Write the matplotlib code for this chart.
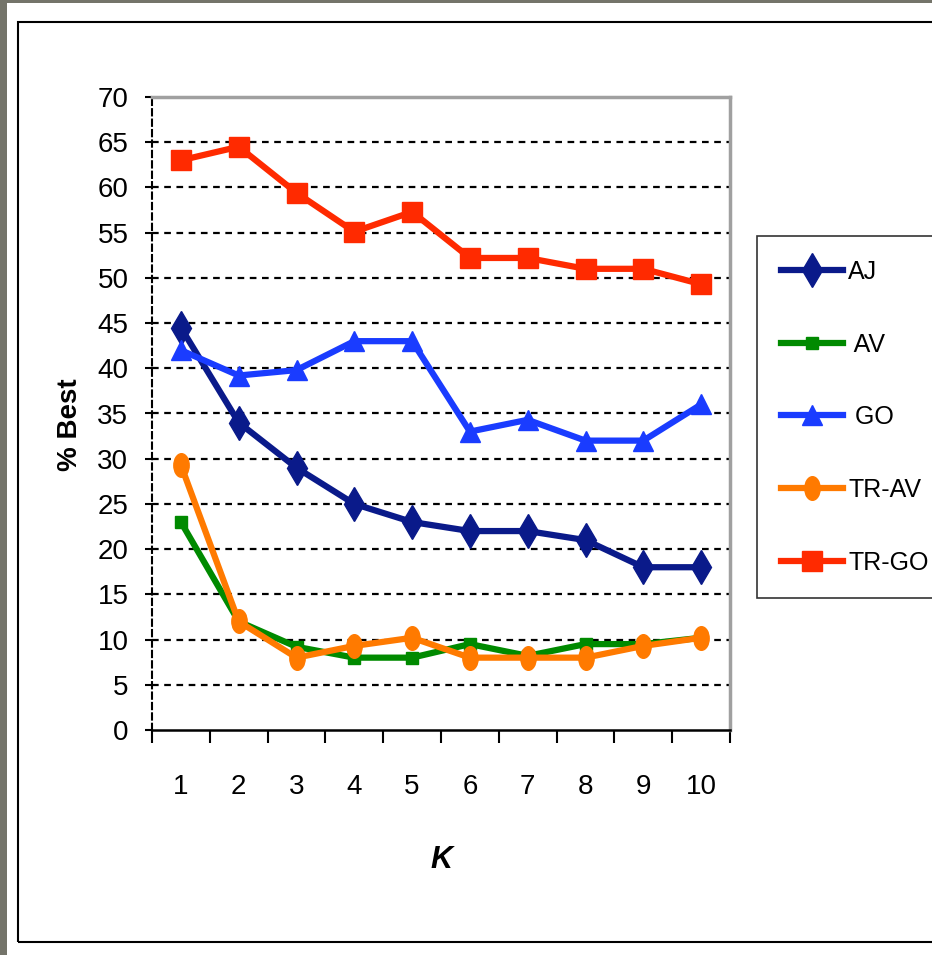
import numpy as np
import matplotlib
matplotlib.use('Agg')
import matplotlib.pyplot as plt
from matplotlib.patches import Rectangle
from matplotlib.path import Path
from matplotlib.transforms import Affine2D

# data
k_values = ['1', '2', '3', '4', '5', '6', '7', '8', '9', '10']
aj = [44.5, 34, 29, 25, 23, 22, 22, 21, 18, 18]
av = [23, 12, 9.2, 8, 8, 9.5, 8.2, 9.5, 9.5, 10.2]
go = [42, 39.2, 39.8, 43, 43, 33, 34.3, 32, 32, 36]
tr_av = [29.3, 12, 8, 9.3, 10.2, 8, 8, 8, 9.3, 10.2]
tr_go = [63, 64.5, 59.4, 55.1, 57.3, 52.2, 52.2, 51, 51, 49.3]
y_ticks = [0, 5, 10, 15, 20, 25, 30, 35, 40, 45, 50, 55, 60, 65, 70]

plt.rcParams['font.family'] = ['Liberation Sans Narrow', 'Liberation Sans', 'DejaVu Sans']

fig = plt.figure(figsize=(9.32, 9.55), dpi=100)
fig.patch.set_facecolor('#74746a')

# white panel with black frame, kept behind the axes
fig.patches.append(Rectangle((7/932, 0), 1, 1 - 3/955, transform=fig.transFigure,
                             facecolor='white', edgecolor='none', zorder=-2))
fig.patches.append(Rectangle((18/932, 1 - 942/955), 1, (942 - 22)/955, transform=fig.transFigure,
                             facecolor='none', edgecolor='black', linewidth=1.5, zorder=-1))

ax = fig.add_axes([152/932, 1 - 730/955, 578/932, 633/955])
x = np.arange(len(k_values))

# vertically stretched ellipse marker
ellipse = Path.unit_circle().transformed(Affine2D().scale(0.65, 1.0))

ax.plot(x, aj, color='#0a1a8a', lw=4.5, marker='d', ms=17, label='AJ', zorder=5)
ax.plot(x, av, color='#008a00', lw=4.5, marker='s', ms=8, label=' AV', zorder=4)
ax.plot(x, go, color='#1a3cff', lw=4.5, marker='^', ms=15, label=' GO', zorder=5)
ax.plot(x, tr_av, color='#ff7a00', lw=4.5, marker=ellipse, ms=17, label='TR-AV', zorder=5)
ax.plot(x, tr_go, color='#ff2a00', lw=4.5, marker='s', ms=14, label='TR-GO', zorder=5)

ax.set_xlim(-0.5, len(k_values) - 0.5)
ax.set_ylim(0, 70)
ax.set_yticks(y_ticks)
ax.set_yticklabels([str(v) for v in y_ticks], fontsize=20)
ax.set_xticks(x)
ax.set_xticklabels(k_values, fontsize=20)
ax.set_xticks(np.arange(len(k_values) + 1) - 0.5, minor=True)
ax.tick_params(axis='x', which='major', length=0, pad=32)
ax.tick_params(axis='x', which='minor', length=9, width=1.5, direction='out')
ax.tick_params(axis='y', length=5, width=1.5, direction='out', pad=12)

for v in y_ticks[1:-1]:
    ax.axhline(v, color='black', lw=1.6, ls=(0, (3, 2.5)), zorder=1)

ax.spines['top'].set_color('#a0a0a0')
ax.spines['right'].set_color('#a0a0a0')
ax.spines['top'].set_linewidth(2.5)
ax.spines['right'].set_linewidth(2.5)
ax.spines['bottom'].set_color('black')
ax.spines['bottom'].set_linewidth(1.8)
ax.spines['left'].set_color('black')
ax.spines['left'].set_linewidth(1.5)
ax.spines['left'].set_linestyle((0, (3, 2)))

fig.text(70/932, 1 - 425/955, '% Best', rotation=90, fontsize=20, fontweight='bold',
         family=['Liberation Sans', 'DejaVu Sans'], ha='center', va='center')
fig.text(441/932, 1 - 860/955, 'K', fontsize=22, fontweight='bold', style='italic',
         ha='center', va='center')

leg = fig.legend(loc='upper left', bbox_to_anchor=(757/932, 1 - 236/955),
                 bbox_transform=fig.transFigure, fontsize=18, frameon=True,
                 fancybox=False, handlelength=2.5, handletextpad=0.2,
                 labelspacing=1.95, borderpad=0.95, borderaxespad=0)
leg.get_frame().set_edgecolor('black')
leg.get_frame().set_linewidth(1.2)

fig.savefig('out.png', dpi=100, facecolor=fig.get_facecolor())
